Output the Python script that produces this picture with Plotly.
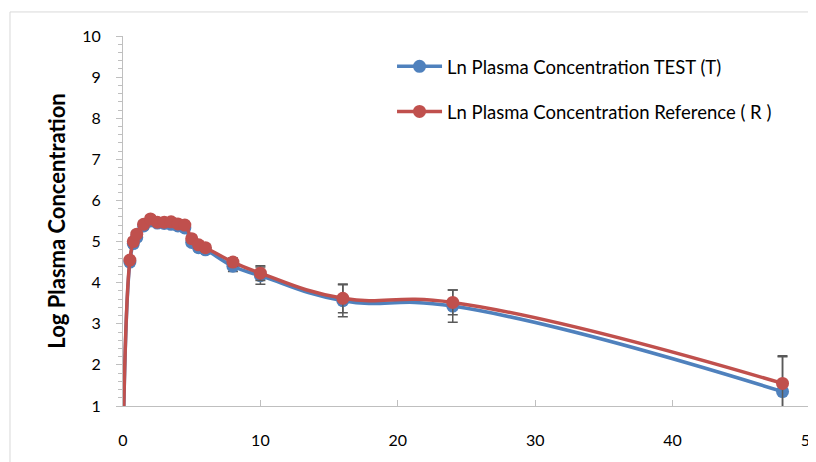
import plotly.graph_objects as go

time_h = [0, 0.5, 0.75, 1, 1.5, 2, 2.5, 3, 3.5, 4, 4.5, 5, 5.5, 6, 8, 10, 16, 24, 48]
ln_test = [0, 4.50, 4.95, 5.10, 5.38, 5.50, 5.45, 5.44, 5.42, 5.38, 5.33, 4.98, 4.85, 4.80, 4.40, 4.17, 3.56, 3.43, 1.35]
ln_ref = [0, 4.55, 5.00, 5.18, 5.42, 5.55, 5.47, 5.47, 5.48, 5.43, 5.40, 5.07, 4.92, 4.85, 4.50, 4.23, 3.62, 3.52, 1.55]
err_test = [0, 0.08, 0.08, 0.08, 0.08, 0.08, 0.08, 0.08, 0.08, 0.08, 0.08, 0.08, 0.08, 0.08, 0.13, 0.21, 0.39, 0.39, 0.85]
err_ref = [0, 0.08, 0.08, 0.08, 0.08, 0.08, 0.08, 0.08, 0.08, 0.08, 0.08, 0.08, 0.08, 0.08, 0.10, 0.18, 0.35, 0.30, 0.67]

names = ["Ln Plasma Concentration TEST (T)", "Ln Plasma Concentration Reference ( R )"]
colors = ["#4F81BD", "#C0504D"]

FONT = "Lato"

fig = go.Figure()
for i, (vals, errs) in enumerate([(ln_test, err_test), (ln_ref, err_ref)]):
    fig.add_trace(go.Scatter(
        x=time_h, y=vals, name=names[i], mode="lines+markers",
        line=dict(color=colors[i], width=3.5, shape="spline", smoothing=1.3),
        marker=dict(color=colors[i], size=13),
        error_y=dict(type="data", array=errs, visible=True, color="#595959", thickness=1.5, width=5),
        legendgroup=f"g{i}",
    ))

# outer chart border
fig.add_shape(type="rect", xref="paper", yref="paper",
              x0=-0.1645, x1=1.05, y0=-0.2, y1=1.065,
              line=dict(color="#D9D9D9", width=1), fillcolor="rgba(0,0,0,0)", layer="below")

# page body has an 8px margin, so the figure is 808x454 and offsets are reduced by 8
fig.update_layout(
    width=808, height=454,
    margin=dict(l=115, r=6, t=28, b=56, autoexpand=False),
    paper_bgcolor="white", plot_bgcolor="white",
    font=dict(family=FONT, size=16, color="#000000"),
    showlegend=True,
    legend=dict(x=0.3916, y=0.968, xanchor="left", yanchor="top",
                font=dict(family=FONT, size=18.5, color="#000000"),
                tracegroupgap=18, itemwidth=45, bgcolor="rgba(0,0,0,0)"),
    xaxis=dict(range=[0, 50], dtick=10, tick0=0, showgrid=False, zeroline=False,
               automargin=False, ticklabeloverflow="allow",
               showline=True, linecolor="#BFBFBF", linewidth=1,
               ticks="inside", ticklen=6, tickcolor="#BFBFBF",
               ticklabelstandoff=20, tickfont=dict(size=16)),
    yaxis=dict(range=[1, 10], dtick=1, tick0=1, showgrid=False, zeroline=False,
               automargin=False,
               showline=True, linecolor="#BFBFBF", linewidth=1,
               ticks="outside", ticklen=6, tickcolor="#BFBFBF",
               minor=dict(dtick=0.2, ticks="outside", ticklen=4, tickcolor="#BFBFBF"),
               ticklabelstandoff=12, tickfont=dict(size=16),
               title=dict(text="<b>Log Plasma Concentration</b>", font=dict(size=22), standoff=10)),
)

fig.write_html("out.html")
